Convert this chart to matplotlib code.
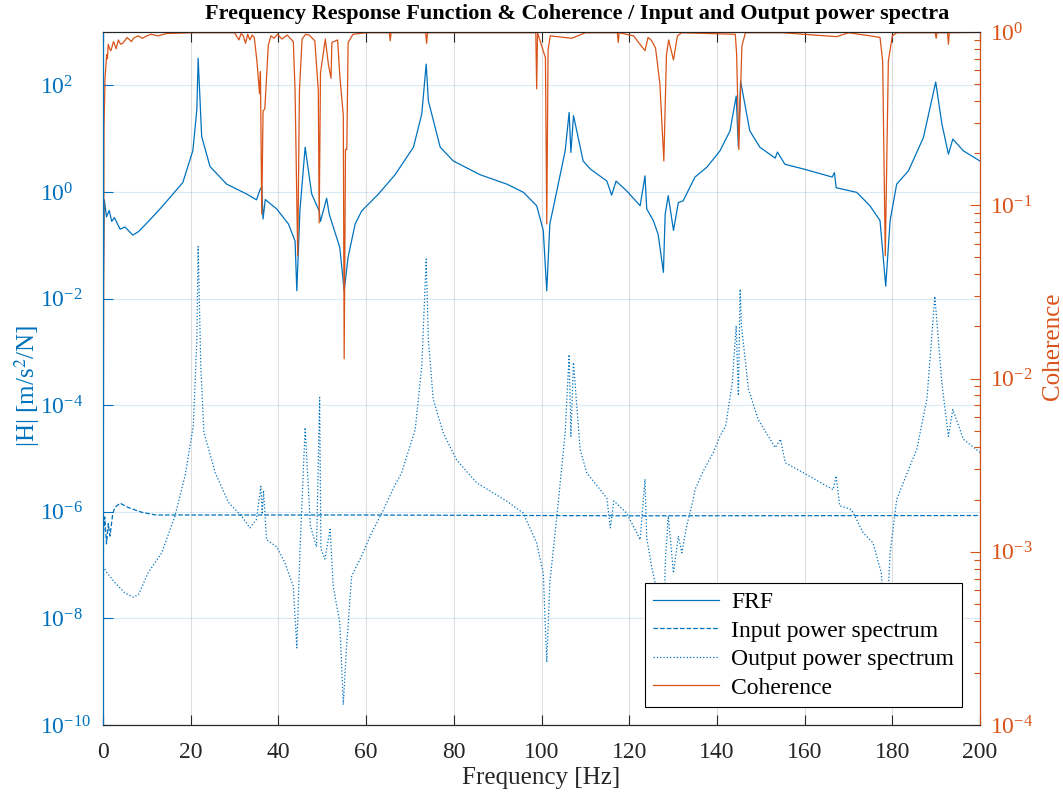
import numpy as np
import matplotlib
matplotlib.use("Agg")
import matplotlib.pyplot as plt
from matplotlib.ticker import FixedLocator, LogFormatterMathtext, NullLocator, LogLocator

plt.rcParams['font.family'] = ['Liberation Serif', 'DejaVu Serif']
plt.rcParams['mathtext.fontset'] = 'stix'

BLUE = '#0072BD'
ORANGE = '#D95319'
DARK = '#262626'

# FRF magnitude |H| [m/s^2/N], key points
frf_freq = [0, 0.3, 0.8, 1.4, 2.0, 2.6, 3.9, 5.0, 6.8, 8.1, 10.7, 13.0, 15.3, 18.2, 20.5, 21.4, 21.7, 22.5,
            24.4, 28.2, 32.8, 35.0, 35.8, 36.2, 36.5, 37.0, 39.6, 42.3, 43.8, 44.2, 44.9, 46.1,
            47.6, 49.3, 49.6, 51.0, 51.6, 54.0, 55.0, 55.9, 57.5, 59.0, 62.8, 66.6, 70.8, 72.7,
            73.7, 74.2, 76.9, 79.9, 86.0, 92.1, 95.9, 98.9, 100.4, 101.2, 101.9, 103.5, 105.4,
            106.3, 106.7, 107.3, 109.5, 111.1, 114.9, 116.0, 117.0, 119.4, 122.5, 123.6, 124.0,
            125.5, 126.6, 127.8, 128.2, 128.9, 130.1, 131.2, 132.3, 135.0, 137.7, 140.7, 143.0,
            144.4, 144.9, 145.4, 147.5, 149.8, 153.3, 153.8, 155.5, 159.7, 166.3, 166.8, 167.2,
            171.9, 174.9, 177.2, 178.5, 179.5, 181.0, 183.7, 187.1, 189.9, 191.3, 192.8, 193.8,
            196.2, 200.0]
frf_mag = [4.1e-3, 0.71, 0.34, 0.45, 0.28, 0.33, 0.20, 0.22, 0.155, 0.18, 0.30, 0.48, 0.79, 1.5, 6.0, 35, 320, 11,
           3.0, 1.4, 0.91, 0.71, 1.1, 1.25, 0.31, 0.72, 0.48, 0.25, 0.12, 0.014, 0.44, 6.9,
           0.91, 0.44, 0.28, 0.76, 0.38, 0.091, 0.014, 0.060, 0.25, 0.44, 0.91, 2.1, 6.9, 29,
           250, 51, 6.9, 3.8, 2.1, 1.4, 0.98, 0.55, 0.19, 0.014, 0.25, 1.05, 5.9,
           31, 5.5, 27, 3.8, 2.7, 1.6, 0.87, 1.6, 1.05, 0.55, 2.0, 0.48,
           0.29, 0.16, 0.031, 0.38, 0.85, 0.19, 0.63, 0.68, 1.9, 2.9, 5.9, 14,
           63, 6.9, 120, 14, 6.9, 4.3, 5.6, 3.3, 2.7, 1.9, 2.3, 1.2,
           0.98, 0.55, 0.29, 0.017, 0.29, 1.4, 2.5, 10.5, 115, 19, 5.1, 9.8,
           5.9, 3.8]

# input (force) power spectrum
in_freq = [0, 0.4, 0.8, 1.2, 1.6, 2.2, 2.7, 3.9, 5.8, 8.8, 12.0, 60.0, 120.0, 200.0]
in_psd = [3.0e-7, 8e-7, 2.5e-7, 6e-7, 3.5e-7, 9e-7, 1.2e-6, 1.45e-6, 1.2e-6, 9.8e-7, 8.7e-7,
          8.7e-7, 8.4e-7, 8.5e-7]

# output (acceleration) power spectrum
out_freq = [0, 0.9, 2.7, 5.0, 6.9, 8.1, 10.3, 13.4, 16.4, 18.7, 20.6, 21.4, 21.7, 22.3, 23.0,
            25.6, 28.6, 31.6, 33.5, 35.0, 36.0, 36.3, 36.6, 37.3, 39.6, 41.5, 43.4, 44.2, 44.9,
            46.1, 47.3, 48.7, 49.4, 49.7, 50.6, 51.8, 52.5, 54.0, 54.8, 55.5, 56.7, 59.0, 61.3,
            63.6, 66.6, 68.1, 71.2, 72.7, 73.7, 74.2, 75.3, 77.6, 80.6, 85.2, 92.0, 95.8, 98.9,
            100.4, 101.2, 101.9, 103.5, 105.4, 106.3, 106.7, 107.3, 108.8, 110.3, 114.9, 115.7,
            116.5, 119.4, 122.5, 123.6, 124.0, 125.1, 126.6, 127.8, 128.2, 128.9, 130.1, 131.2,
            132.0, 133.1, 134.6, 135.0, 136.9, 139.2, 140.7, 142.0, 143.5, 144.4, 144.9, 145.3,
            145.6, 147.2, 149.4, 153.3, 154.5, 155.6, 159.7, 166.5, 167.2, 168.0, 170.7, 173.3,
            175.6, 177.5, 178.5, 179.5, 181.0, 183.7, 185.6, 187.9, 189.7, 191.3, 192.8, 193.8,
            196.2, 200.0]
out_psd = [9.5e-8, 7.2e-8, 4.7e-8, 3.0e-8, 2.5e-8, 2.8e-8, 7.2e-8, 1.7e-7, 8.3e-7, 4.7e-6,
           4.1e-5, 1.7e-3, 9.5e-2, 5.4e-4, 3.1e-5, 5.4e-6, 1.5e-6, 8.3e-7, 5.0e-7, 7.2e-7,
           3.0e-6, 9e-7, 2.5e-6, 3.0e-7, 2.2e-7, 1.1e-7, 4.0e-8, 2.8e-9, 1.7e-7, 3.8e-5,
           5.4e-7, 2.2e-7, 1.4e-4, 2.0e-7, 1.3e-7, 4.7e-7, 4.0e-8, 8.3e-9, 2.4e-10, 2.6e-9,
           6.2e-8, 1.5e-7, 4.1e-7, 9.5e-7, 3.2e-6, 5.4e-6, 3.5e-5, 5.4e-4, 5.5e-2, 1.7e-3,
           1.3e-4, 3.0e-5, 9.5e-6, 3.5e-6, 1.6e-6, 9.5e-7, 2.6e-7, 7.1e-8, 1.5e-9, 4.7e-8,
           8.3e-7, 3.0e-5, 8.9e-4, 2.6e-5, 6.3e-4, 1.5e-5, 5.4e-6, 1.8e-6, 5e-7, 1.6e-6,
           9.5e-7, 3.0e-7, 4.1e-6, 3.2e-7, 9.5e-8, 2.5e-8, 1.0e-9, 1.0e-7, 8.3e-7, 7.1e-8,
           3.5e-7, 1.7e-7, 5.4e-7, 1.7e-6, 2.6e-6, 5.8e-6, 1.3e-5, 2.6e-5, 4.1e-5, 2.6e-4,
           3.1e-3, 1.5e-4, 1.5e-2, 3.1e-3, 2.0e-4, 5.4e-5, 1.6e-5, 2.3e-5, 8.3e-6, 5.4e-6,
           2.6e-6, 4.7e-6, 1.3e-6, 1.1e-6, 4.1e-7, 2.6e-7, 7.1e-8, 3.2e-9, 1.7e-7, 1.7e-6,
           6.2e-6, 1.5e-5, 1.3e-4, 1.1e-2, 2.6e-4, 2.6e-5, 8.3e-5, 2.3e-5, 1.3e-5]

# coherence
coh_freq = [0, 0.23, 0.46, 0.84, 1.0, 1.2, 1.5, 1.8, 2.4, 3.0, 3.5, 4.0, 4.5, 5.5, 6.5, 6.9, 8.0,
            9.0, 10.0, 11.0, 12.5, 14.5, 20.0, 30.0, 31.0, 31.5, 32.0, 32.5, 33.0, 33.5, 34.0,
            34.5, 35.1, 35.7, 35.9, 36.2, 36.5, 36.9, 37.7, 38.3, 39.0, 39.8, 40.8, 42.0, 43.4,
            43.8, 44.4, 44.8, 45.4, 46.2, 47.0, 48.3, 49.1, 49.3, 49.6, 50.7, 51.4, 52.0, 52.2,
            53.5, 54.0, 54.8, 55.0, 55.3, 55.6, 55.9, 57.0, 60.0, 65.3, 65.5, 65.7, 73.6, 73.8,
            74.0, 90.0, 98.7, 98.9, 99.1, 100.9, 101.2, 101.5, 102.0, 106.9, 110.0, 117.3, 117.5,
            117.7, 121.0, 122.0, 123.6, 124.3, 125.0, 126.0, 127.0, 127.9, 128.5, 129.0, 130.1,
            131.0, 132.0, 144.2, 144.5, 145.0, 145.7, 146.5, 155.0, 167.3, 170.0, 175.0, 177.2,
            177.8, 178.4, 179.1, 180.0, 181.0, 189.8, 190.0, 190.2, 192.6, 192.8, 193.0, 200.0]
coh = [5e-4, 0.28, 0.54, 0.74, 0.70, 0.85, 0.80, 0.78, 0.88, 0.80, 0.90, 0.85, 0.86, 0.93, 0.88,
       0.92, 0.95, 0.92, 0.95, 0.97, 0.95, 0.98, 0.99, 0.99, 0.90, 0.98, 0.95, 0.86, 0.97, 0.90,
       0.96, 0.93, 0.68, 0.44, 0.59, 0.089, 0.35, 0.36, 0.84, 0.95, 0.92, 0.97, 0.91, 0.96, 0.88,
       0.46, 0.051, 0.46, 0.91, 0.97, 0.96, 0.89, 0.46, 0.079, 0.58, 0.91, 0.65, 0.54, 0.87,
       0.90, 0.56, 0.33, 0.013, 0.21, 0.21, 0.87, 0.97, 0.99, 0.99, 0.89, 0.99, 0.99, 0.86,
       0.99, 0.99, 0.99, 0.47, 0.99, 0.71, 0.078, 0.79, 0.95, 0.92, 0.99, 0.99, 0.87,
       0.99, 0.95, 0.88, 0.78, 0.93, 0.90, 0.81, 0.50, 0.18, 0.74, 0.90, 0.69,
       0.95, 0.99, 0.97, 0.74, 0.21, 0.83, 0.99, 0.99, 0.94, 0.99, 0.95, 0.93,
       0.68, 0.051, 0.68, 0.95, 0.99, 0.99, 0.92, 0.99, 0.99, 0.85, 0.99, 0.995]

fig = plt.figure(figsize=(10.63, 7.94), dpi=100)
ax = fig.add_axes([103 / 1063, 1 - 725 / 794, 877 / 1063, 693 / 794])
ax2 = ax.twinx()

l1, = ax.plot(frf_freq, frf_mag, color=BLUE, lw=0.9, label='FRF')
l2, = ax.plot(in_freq, in_psd, color=BLUE, lw=0.9, ls='--', label='Input power spectrum')
l3, = ax.plot(out_freq, out_psd, color=BLUE, lw=0.9, ls=':', label='Output power spectrum')
l4, = ax2.plot(coh_freq, coh, color=ORANGE, lw=0.9, label='Coherence')

ax.set_yscale('log')
ax.set_ylim(1e-10, 1e3)
ax.set_xlim(0, 200)
ax.set_xticks(np.arange(0, 201, 20))
ax.yaxis.set_major_locator(FixedLocator([1e-10, 1e-8, 1e-6, 1e-4, 1e-2, 1e0, 1e2]))
ax.yaxis.set_major_formatter(LogFormatterMathtext())
ax.yaxis.set_minor_locator(NullLocator())

ax2.set_yscale('log')
ax2.set_ylim(1e-4, 1)
ax2.yaxis.set_major_locator(LogLocator(base=10, numticks=10))
ax2.yaxis.set_minor_locator(LogLocator(base=10, subs=np.arange(2, 10), numticks=10))
ax2.yaxis.set_major_formatter(LogFormatterMathtext())

ax.grid(True, axis='x', color=DARK, alpha=0.15, lw=0.8)
ax.grid(True, axis='y', color=BLUE, alpha=0.15, lw=0.8)

ax.tick_params(axis='x', direction='in', top=True, length=7, colors=DARK, labelsize=17,
               width=0.8, pad=12)
ax.tick_params(axis='y', direction='in', length=7, colors=BLUE, labelsize=17, width=0.8, pad=45)
for lab in ax.get_yticklabels():
    lab.set_horizontalalignment('left')
ax2.tick_params(axis='y', which='major', direction='in', length=7, colors=ORANGE, labelsize=17,
                width=0.8, pad=7)
ax2.tick_params(axis='y', which='minor', direction='in', length=4, colors=ORANGE, width=0.8)

for s in ['top', 'bottom']:
    ax.spines[s].set_color(DARK)
    ax2.spines[s].set_color(DARK)
ax2.spines['left'].set_color(BLUE)
ax2.spines['right'].set_color(ORANGE)
for sp in ax2.spines.values():
    sp.set_linewidth(0.8)

ax.set_xlabel('Frequency [Hz]', fontsize=18, color=DARK, labelpad=3)
ax.set_ylabel('|H| [m/s$^2$/N]', fontsize=18, color=BLUE)
ax.yaxis.set_label_coords(-0.07, 0.49)
ax2.set_ylabel('Coherence', fontsize=18, color=ORANGE)
ax2.yaxis.set_label_coords(1.071, 0.547)

fig.text(577 / 1063, 0.982, 'Frequency Response Function & Coherence / Input and Output power spectra',
         ha='center', va='center', fontsize=16, fontweight='bold', color='black')

leg = ax2.legend(handles=[l1, l2, l3, l4], loc='lower right', bbox_to_anchor=(962 / 1063, 1 - 707 / 794),
                 bbox_transform=fig.transFigure, fontsize=17, frameon=True, fancybox=False,
                 framealpha=1, edgecolor='black', handlelength=2.8, labelspacing=0.3,
                 borderpad=0.35, handletextpad=0.5, borderaxespad=0)
leg.get_frame().set_linewidth(0.8)
for t in leg.get_texts():
    t.set_color('black')

fig.savefig('out.png', dpi=100)
